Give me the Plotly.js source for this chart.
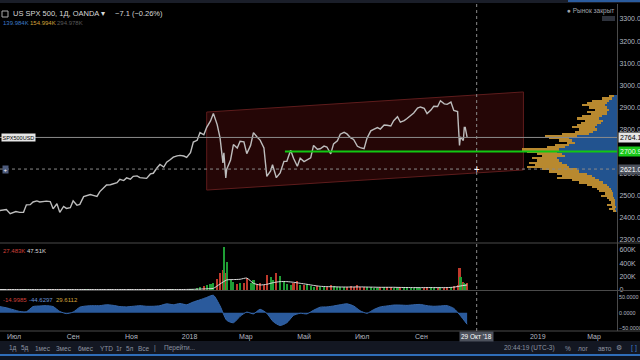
<!DOCTYPE html>
<html><head><meta charset="utf-8">
<script src="https://cdn.plot.ly/plotly-3.0.1.min.js"></script>
<style>html,body{margin:0;padding:0;background:#000;}#chart{width:640px;height:360px;}</style>
</head><body><div id="chart"></div>
<script>
// ---------------- DATA ----------------
const priceDates = [
 '2017-06-16','2017-06-20','2017-06-23','2017-06-27','2017-06-30',
 '2017-07-03','2017-07-07','2017-07-11','2017-07-14','2017-07-18','2017-07-21','2017-07-25','2017-07-28',
 '2017-08-01','2017-08-04','2017-08-08','2017-08-11','2017-08-15','2017-08-18','2017-08-22','2017-08-25','2017-08-29',
 '2017-09-01','2017-09-05','2017-09-08','2017-09-12','2017-09-15','2017-09-19','2017-09-22','2017-09-26','2017-09-29',
 '2017-10-03','2017-10-06','2017-10-10','2017-10-13','2017-10-17','2017-10-20','2017-10-24','2017-10-27','2017-10-31',
 '2017-11-03','2017-11-07','2017-11-10','2017-11-14','2017-11-17','2017-11-21','2017-11-24','2017-11-28',
 '2017-12-01','2017-12-05','2017-12-08','2017-12-12','2017-12-15','2017-12-19','2017-12-22','2017-12-26','2017-12-29',
 '2018-01-02','2018-01-05','2018-01-09','2018-01-12','2018-01-16','2018-01-19','2018-01-23','2018-01-26','2018-01-30',
 '2018-02-02','2018-02-05','2018-02-06','2018-02-08','2018-02-09','2018-02-13','2018-02-16','2018-02-20','2018-02-23','2018-02-27',
 '2018-03-02','2018-03-06','2018-03-09','2018-03-13','2018-03-16','2018-03-20','2018-03-23','2018-03-27','2018-03-29',
 '2018-04-02','2018-04-06','2018-04-10','2018-04-13','2018-04-17','2018-04-20','2018-04-24','2018-04-27',
 '2018-05-01','2018-05-04','2018-05-08','2018-05-11','2018-05-15','2018-05-18','2018-05-22','2018-05-25','2018-05-29',
 '2018-06-01','2018-06-05','2018-06-08','2018-06-12','2018-06-15','2018-06-19','2018-06-22','2018-06-26','2018-06-29',
 '2018-07-03','2018-07-06','2018-07-10','2018-07-13','2018-07-17','2018-07-20','2018-07-24','2018-07-27','2018-07-31',
 '2018-08-03','2018-08-07','2018-08-10','2018-08-14','2018-08-17','2018-08-21','2018-08-24','2018-08-28','2018-08-31',
 '2018-09-04','2018-09-07','2018-09-11','2018-09-14','2018-09-18','2018-09-21','2018-09-25','2018-09-28',
 '2018-10-02','2018-10-05','2018-10-09','2018-10-11','2018-10-12','2018-10-15','2018-10-16','2018-10-17','2018-10-19'
];
const priceClose = [
 2433,2437,2438,2419,2423,
 2429,2425,2425,2459,2460,2472,2477,2472,
 2476,2476,2474,2441,2464,2425,2452,2443,2446,
 2477,2457,2461,2496,2500,2506,2502,2497,2519,
 2534,2549,2550,2553,2559,2575,2569,2581,2575,
 2588,2590,2582,2579,2579,2599,2602,2627,
 2642,2630,2652,2664,2675,2681,2683,2680,2674,
 2695,2743,2751,2786,2776,2810,2839,2873,2822,
 2762,2649,2695,2581,2620,2662,2732,2716,2747,2744,
 2691,2728,2786,2765,2752,2717,2588,2613,2641,
 2582,2604,2656,2656,2706,2670,2634,2670,
 2655,2663,2672,2728,2711,2713,2725,2721,2690,
 2735,2749,2779,2787,2780,2762,2755,2724,2718,
 2713,2760,2794,2801,2809,2802,2820,2819,2816,
 2840,2858,2833,2840,2850,2863,2875,2897,2902,
 2896,2872,2888,2905,2904,2930,2916,2914,
 2924,2886,2881,2728,2767,2750,2809,2809,2764
];
const volumeK = [
 6,7,6,8,7,
 6,7,6,8,7,6,7,6,
 7,6,8,9,7,8,7,6,7,
 6,7,6,7,8,6,7,6,7,
 6,7,6,7,6,7,6,7,6,
 7,6,7,8,7,6,5,7,
 8,7,6,7,9,7,6,5,7,
 15,20,25,40,60,70,90,110,160,
 250,300,640,260,420,150,120,90,110,100,
 180,100,150,90,110,80,230,200,150,
 260,210,130,90,80,100,140,80,
 70,90,60,50,60,45,50,45,80,
 55,45,40,40,50,55,45,75,50,
 40,45,40,35,35,40,40,50,45,
 35,30,45,40,40,35,30,35,30,
 35,45,40,35,35,40,35,40,
 40,60,70,330,200,120,110,90,100
];
const weekDates = [
 '2017-06-16','2017-06-23','2017-06-30',
 '2017-07-07','2017-07-14','2017-07-21','2017-07-28',
 '2017-08-04','2017-08-11','2017-08-18','2017-08-25',
 '2017-09-01','2017-09-08','2017-09-15','2017-09-22','2017-09-29',
 '2017-10-06','2017-10-13','2017-10-20','2017-10-27',
 '2017-11-03','2017-11-10','2017-11-17','2017-11-24',
 '2017-12-01','2017-12-08','2017-12-15','2017-12-22','2017-12-29',
 '2018-01-05','2018-01-12','2018-01-19','2018-01-26',
 '2018-02-02','2018-02-09','2018-02-16','2018-02-23',
 '2018-03-02','2018-03-09','2018-03-16','2018-03-23','2018-03-30',
 '2018-04-06','2018-04-13','2018-04-20','2018-04-27',
 '2018-05-04','2018-05-11','2018-05-18','2018-05-25',
 '2018-06-01','2018-06-08','2018-06-15','2018-06-22','2018-06-29',
 '2018-07-06','2018-07-13','2018-07-20','2018-07-27',
 '2018-08-03','2018-08-10','2018-08-17','2018-08-24','2018-08-31',
 '2018-09-07','2018-09-14','2018-09-21','2018-09-28',
 '2018-10-05','2018-10-12','2018-10-19'
];
const volumeMAK = [
 7,7,7, 7,7,7,7, 7,7,7,7, 7,7,7,7,7, 7,7,7,7, 7,7,7,7, 7,7,7,7,8,
 10,14,18,25,
 90,150,155,160,
 178,100,75,85,110,
 125,125,115,100,
 85,68,55,50,
 48,45,44,45,46,
 44,42,40,40,
 40,38,37,36,35,
 36,36,35,36,
 42,60,75
];
const oscValues = [
 20,16,10, 4,3,20,22, 23,20,4,-3, 2,18,22,23,23, 26,24,20,19, 21,23,21,21, 23,29,26,30,26,
 35,42,50,57,
 22,-25,-33,-12,
 2,-4,11,-2,-30,
 -42,-33,-9,-2,
 -4,8,18,19,
 22,26,29,22,6,
 -2,10,19,22,
 25,25,24,26,27,
 23,21,22,23,
 14,-10,-38
];
const profileLevels = [2430,2440,2450,2460,2470,2480,2490,2500,2510,2520,2530,2540,2550,2560,2570,2580,2590,2600,2610,2620,2630,2640,2650,2660,2670,2680,2690,2700,2710,2720,2730,2740,2750,2760,2770,2780,2790,2800,2810,2820,2830,2840,2850,2860,2870,2880,2890,2900,2910,2920,2930,2940,2950];
const profileTotal = [4,8,5,10,6,8,10,16,12,18,20,25,30,38,45,60,55,60,68,75,90,82,88,80,85,75,80,90,95,70,62,50,58,68,72,55,42,38,45,40,36,32,40,35,26,30,22,28,35,30,25,15,8];
const profileUp =    [1,2,1,2,2,2,3,4,4,5,6,8,10,14,18,22,25,30,38,40,48,50,55,58,60,52,55,60,58,52,48,42,45,48,40,28,24,20,22,20,16,14,18,15,10,10,8,10,12,10,8,5,3];
const channelDates = ['2018-01-19','2018-12-17'];
const channelTop = [2879, 2970];
const channelBottom = [2526, 2617];
const lastPrice = 2764.1;
const greenLevel = 2700.9;
const greenStart = '2018-04-11';
const cursorDate = '2018-10-29';
const cursorPrice = 2621.0;
const priceTicks = [2300,2400,2500,2600,2800,2900,3000,3100,3200,3300];
const volTicks = [0,200000,400000,600000];
const volTickText = ['0','200K','400K','600K'];
const oscTicks = [-50,0,50];
const timeTicks = ['2017-07-01','2017-09-01','2017-11-01','2018-01-01','2018-03-01','2018-05-01','2018-07-01','2018-09-01','2019-01-01','2019-03-01'];
const timeTickText = ['Июл','Сен','Ноя','2018','Мар','Май','Июл','Сен','2019','Мар'];

// ---------------- LAYOUT HELPERS ----------------
const W = 640, H = 360;
const px = x => x / W;
const py = y => 1 - y / H;
const xRange = ['2017-06-16 08:00', '2019-03-25 02:00'];
const xEnd = px(617);
const FONT = 'Liberation Sans, Arial, sans-serif';
const axisFont = {family: FONT, size: 7, color: '#b4b8c0'};

const volColors = volumeK.map((v, i) => (i === 0 || priceClose[i] >= priceClose[i - 1]) ? '#1f9e35' : '#bf3a2c');

const traces = [
  { // channel
    x: [channelDates[0], channelDates[1], channelDates[1], channelDates[0], channelDates[0]],
    y: [channelTop[0], channelTop[1], channelBottom[1], channelBottom[0], channelTop[0]],
    xaxis: 'x', yaxis: 'y', mode: 'lines', fill: 'toself',
    fillcolor: 'rgba(62,10,10,0.6)', line: {color: '#5e1c1c', width: 1}
  },
  { // profile total (orange)
    type: 'bar', orientation: 'h', y: profileLevels, x: profileTotal, xaxis: 'x4', yaxis: 'y',
    width: 10, marker: {color: '#b8892f', line: {width: 0}}
  },
  { // profile up (blue)
    type: 'bar', orientation: 'h', y: profileLevels, x: profileUp, xaxis: 'x4', yaxis: 'y',
    width: 10, marker: {color: '#22538f', line: {width: 0}}
  },
  { // price
    x: priceDates, y: priceClose, xaxis: 'x', yaxis: 'y', mode: 'lines',
    line: {color: '#bdbdbd', width: 1.4}
  },
  { // volume bars
    type: 'bar', x: priceDates, y: volumeK.map(v => v * 1000), xaxis: 'x2', yaxis: 'y2',
    width: 2.2 * 86400000, marker: {color: volColors, line: {width: 0}}
  },
  { // volume MA
    x: weekDates, y: volumeMAK.map(v => v * 1000), xaxis: 'x2', yaxis: 'y2', mode: 'lines',
    line: {color: '#dcdcdc', width: 1, shape: 'spline', smoothing: 0.6}
  },
  { // oscillator
    x: weekDates, y: oscValues, xaxis: 'x3', yaxis: 'y3', mode: 'lines', fill: 'tozeroy',
    fillcolor: '#2a5a9c', line: {color: '#3566aa', width: 1, shape: 'spline', smoothing: 0.6}
  }
];

const baseX = {range: xRange, type: 'date', showgrid: false, zeroline: false, showticklabels: false, ticks: '', showline: false, domain: [0, xEnd]};
const layout = {
  width: W, height: H, margin: {l: 0, r: 0, t: 0, b: 0, pad: 0},
  paper_bgcolor: '#000', plot_bgcolor: '#000', showlegend: false, hovermode: false,
  barmode: 'overlay', bargap: 0,
  xaxis: Object.assign({}, baseX, {anchor: 'y'}),
  xaxis2: Object.assign({}, baseX, {anchor: 'y2'}),
  xaxis3: Object.assign({}, baseX, {anchor: 'y3', showticklabels: true, tickvals: timeTicks, ticktext: timeTickText, tickfont: axisFont}),
  xaxis4: {overlaying: 'x', anchor: 'y', range: [617, 0], visible: false},
  yaxis: {domain: [py(243), py(4)], range: [2286.4, 3368], side: 'right', anchor: 'x', showgrid: false, zeroline: false,
          tickvals: priceTicks, tickformat: '.1f', tickfont: axisFont, ticks: '', showline: true, linecolor: '#4a4a4a', linewidth: 1},
  yaxis2: {domain: [py(290), py(243)], range: [0, 700000], side: 'right', anchor: 'x2', showgrid: false, zeroline: false,
          tickvals: volTicks, ticktext: volTickText, tickfont: axisFont, ticks: '', showline: true, linecolor: '#4a4a4a', linewidth: 1},
  yaxis3: {domain: [py(331), py(291)], range: [-60, 71], side: 'right', anchor: 'x3', showgrid: false, zeroline: false,
          tickvals: oscTicks, tickformat: '.4f', tickfont: {family: FONT, size: 5.4, color: '#b4b8c0'}, ticks: '', showline: true, linecolor: '#4a4a4a', linewidth: 1},
  shapes: [
    // top strip
    {type: 'rect', xref: 'paper', yref: 'paper', x0: 0, x1: 1, y0: py(3), y1: 1, fillcolor: '#1a1e29', line: {width: 0}},
    {type: 'rect', xref: 'paper', yref: 'paper', x0: px(568), x1: 1, y0: py(2), y1: 1, fillcolor: '#2b5c9e', line: {width: 0}},
    // separators
    {type: 'line', xref: 'paper', yref: 'paper', x0: 0, x1: 1, y0: py(243), y1: py(243), line: {color: '#4a4a4a', width: 1}},
    {type: 'line', xref: 'paper', yref: 'paper', x0: 0, x1: 1, y0: py(290.5), y1: py(290.5), line: {color: '#4a4a4a', width: 1}},
    {type: 'line', xref: 'paper', yref: 'paper', x0: 0, x1: 1, y0: py(331), y1: py(331), line: {color: '#4a4a4a', width: 1}},
    // last price line
    {type: 'line', xref: 'paper', yref: 'y', x0: 0, x1: xEnd, y0: lastPrice, y1: lastPrice, line: {color: '#8c8c8c', width: 1}},
    // green horizontal level
    {type: 'line', xref: 'x', yref: 'y', x0: greenStart, x1: xRange[1], y0: greenLevel, y1: greenLevel, line: {color: '#12c812', width: 2}},
    // crosshair
    {type: 'line', xref: 'paper', yref: 'y', x0: 0, x1: xEnd, y0: cursorPrice, y1: cursorPrice, line: {color: '#8a8a8a', width: 1, dash: 'dot'}},
    {type: 'line', xref: 'x', yref: 'paper', x0: cursorDate, x1: cursorDate, y0: py(331), y1: py(4), line: {color: '#8a8a8a', width: 1, dash: 'dot'}},
    // header icons
    {type: 'rect', xref: 'paper', yref: 'paper', x0: px(2), x1: px(8), y0: py(17), y1: py(11), line: {color: '#aaaaaa', width: 1}},
    {type: 'rect', xref: 'paper', yref: 'paper', x0: px(602), x1: px(615), y0: py(21), y1: py(16), fillcolor: '#2e323c', line: {width: 0}},
    // bottom toolbar
    {type: 'rect', xref: 'paper', yref: 'paper', x0: 0, x1: 1, y0: py(354), y1: py(341), fillcolor: '#131722', line: {width: 0}},
    {type: 'rect', xref: 'paper', yref: 'paper', x0: 0, x1: 1, y0: py(356), y1: py(354), fillcolor: '#2f6db8', line: {width: 0}},
    {type: 'rect', xref: 'paper', yref: 'paper', x0: 0, x1: 1, y0: 0, y1: py(356), fillcolor: '#0d1421', line: {width: 0}}
  ],
  annotations: []
};

function note(text, x, y, opts) {
  const a = Object.assign({text: text, xref: 'paper', yref: 'paper', x: px(x), y: py(y), xanchor: 'left', yanchor: 'middle',
    showarrow: false, font: {family: FONT, size: 7, color: '#d0d0d0'}}, opts || {});
  layout.annotations.push(a);
}
// header
note('US SPX 500, 1Д, OANDA ▾', 11, 14, {font: {family: FONT, size: 7.5, color: '#d8d8d8'}});
note('−7.1 (−0.26%)', 113, 14, {font: {family: FONT, size: 7.5, color: '#d8d8d8'}});
note('139.984K', 1, 23, {font: {family: FONT, size: 6, color: '#3d7ac8'}});
note('154.994K', 28, 23, {font: {family: FONT, size: 6, color: '#d4a23a'}});
note('294.978K', 55, 23, {font: {family: FONT, size: 6, color: '#5a5a5a'}});
note('● Рынок закрыт', 616, 11, {xanchor: 'right', font: {family: FONT, size: 6.5, color: '#a0a4ac'}});
// pane legends
note('27.483K', 1, 251, {font: {family: FONT, size: 6, color: '#d0403a'}});
note('47.51K', 25, 251, {font: {family: FONT, size: 6, color: '#d8d8d8'}});
note('-14.9985', 1, 300, {font: {family: FONT, size: 6, color: '#d0403a'}});
note('-44.6297', 27, 300, {font: {family: FONT, size: 6, color: '#6a94d8'}});
note('29.6112', 54, 300, {font: {family: FONT, size: 6, color: '#d4a23a'}});
// toolbar
const tbItems = [['1д',7],['5д',19],['1мес',33],['3мес',54],['6мес',76],['YTD',98],['1г',114],['5л',124],['Все',136],['|',152],['Перейти...',162]];
tbItems.forEach(t => note(t[0], t[1], 348, {font: {family: FONT, size: 6.5, color: '#8c93a0'}}));
note('20:44:19 (UTC-3)', 502, 348, {font: {family: FONT, size: 6.5, color: '#8c93a0'}});
note('%', 563, 348, {font: {family: FONT, size: 6.5, color: '#8c93a0'}});
note('лог', 576, 348, {font: {family: FONT, size: 6.5, color: '#8c93a0'}});
note('авто', 596, 348, {font: {family: FONT, size: 6.5, color: '#8c93a0'}});
note('⚙', 614, 348, {font: {family: 'DejaVu Sans', size: 7, color: '#8c93a0'}});
note('[ ]', 629, 348, {font: {family: FONT, size: 7, color: '#3d7ac8'}});
// axis value boxes
layout.annotations.push({text: lastPrice.toFixed(1), xref: 'paper', yref: 'y', x: xEnd, y: lastPrice, xanchor: 'left', yanchor: 'middle', xshift: 1,
  showarrow: false, bgcolor: '#e6e6e6', borderpad: 1, font: {family: FONT, size: 7, color: '#000'}});
layout.annotations.push({text: greenLevel.toFixed(1), xref: 'paper', yref: 'y', x: xEnd, y: greenLevel, xanchor: 'left', yanchor: 'middle', xshift: 1,
  showarrow: false, bgcolor: '#18c818', borderpad: 1, font: {family: FONT, size: 7, color: '#f0fff0'}});
layout.annotations.push({text: cursorPrice.toFixed(1), xref: 'paper', yref: 'y', x: xEnd, y: cursorPrice, xanchor: 'left', yanchor: 'middle', xshift: 1,
  showarrow: false, bgcolor: '#4c515c', borderpad: 1, font: {family: FONT, size: 7, color: '#ffffff'}});
layout.annotations.push({text: 'SPX500USD', xref: 'paper', yref: 'y', x: px(1), y: lastPrice, xanchor: 'left', yanchor: 'middle',
  showarrow: false, bgcolor: '#e6e6e6', borderpad: 0.5, font: {family: FONT, size: 5.5, color: '#000'}});
layout.annotations.push({text: '+', xref: 'paper', yref: 'y', x: px(2), y: cursorPrice, xanchor: 'left', yanchor: 'middle',
  showarrow: false, bgcolor: '#4d5b7c', borderpad: 0.5, font: {family: FONT, size: 6, color: '#ffffff'}});
layout.annotations.push({text: '+', xref: 'x', yref: 'y', x: cursorDate, y: cursorPrice, xanchor: 'center', yanchor: 'middle',
  showarrow: false, font: {family: FONT, size: 10, color: '#ffffff'}});
layout.annotations.push({text: "29 Окт '18", xref: 'x', yref: 'paper', x: cursorDate, y: py(336), xanchor: 'center', yanchor: 'middle',
  showarrow: false, bgcolor: '#4c515c', borderpad: 1, font: {family: FONT, size: 6.5, color: '#ffffff'}});

Plotly.newPlot('chart', traces, layout, {staticPlot: true, displayModeBar: false});
</script></body></html>
